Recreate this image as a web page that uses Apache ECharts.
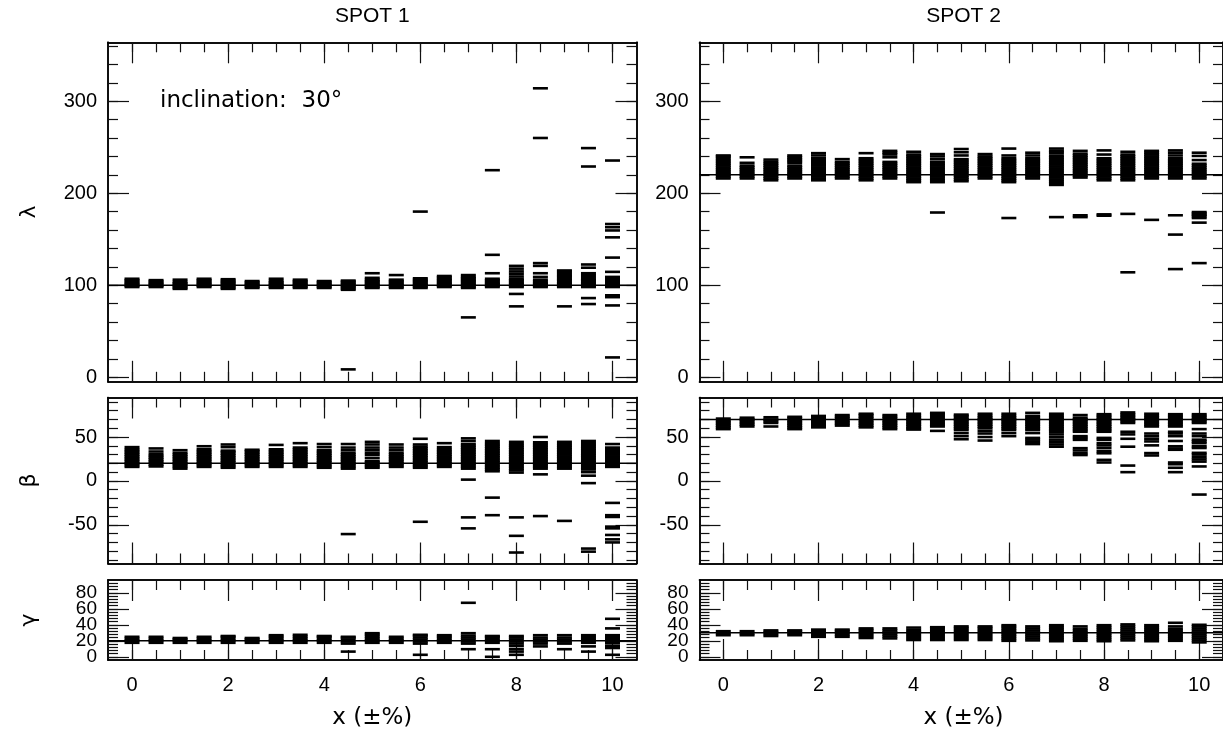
<!DOCTYPE html>
<html><head><meta charset="utf-8">
<script src="https://cdn.jsdelivr.net/npm/echarts@6/dist/echarts.min.js"></script>
<style>html,body{margin:0;padding:0;background:#fff}#c{width:1223px;height:741px}</style>
</head><body><div id="c"></div><script>
// x positions (±%)
const xPos = [0,0.5,1,1.5,2,2.5,3,3.5,4,4.5,5,5.5,6,6.5,7,7.5,8,8.5,9,9.5,10];
const xMajor = [0,2,4,6,8,10];
const xMinor = [0,0.5,1,1.5,2,2.5,3,3.5,4,4.5,5,5.5,6,6.5,7,7.5,8,8.5,9,9.5,10];
const lambdaMajor = [0,100,200,300];
const lambdaMinor = [0,20,40,60,80,100,120,140,160,180,200,220,240,260,280,300,320,340,360];
const betaMajor = [-50,0,50];
const betaMinor = [-90,-80,-70,-60,-50,-40,-30,-20,-10,0,10,20,30,40,50,60,70,80,90];
const gammaMajor = [0,20,40,60,80];
const gammaMinor = [0,4,8,12,16,20,24,28,32,36,40,44,48,52,56,60,64,68,72,76,80,84,88,92];
// label sets (split in two so tightly stacked labels are all drawn)
const lambdaLabelsA = [0,100,200,300], lambdaLabelsB = [];
const betaLabelsA = [-50,0,50], betaLabelsB = [];
const gammaLabelsA = [0,40,80], gammaLabelsB = [20,60];
// true values (reference lines) [spot1, spot2]
const lambdaTrue = [100,220];
const betaTrue = [20,70];
const gammaTrue = [20,30];

// SPOT 1 recovered lambda
const lambda1 = [
 [98,99.5,101,102.5,104,105.5,107],
 [98,99.5,101,102.5,104,105.5],
 [96,97.5,99,100.5,102,103.5,106],
 [98,99.5,101,102.5,104,105.5,107],
 [96,97.5,99,100.5,102,103.5,105,106.5],
 [97,98.5,100,101.5,103,104.5],
 [97,98.5,100,101.5,103,104.5,107],
 [97,98.5,100,101.5,103,104.5,106],
 [97,98.5,100,101.5,103,104.5],
 [8.5,95,96.5,98,99.5,101,102.5,104,105],
 [97,98.5,100,101.5,103,104.5,106,108,113],
 [97,98.5,100,101.5,103,104.5,106,111],
 [97,98.5,100,101.5,103,104.5,106,107.5,180],
 [98,99.5,101,102.5,104,105.5,107,108.5,110],
 [65,97,98.5,100,101.5,103,104.5,106,107.5,109,111],
 [98,99.5,101,102.5,104,105.5,107,113,133,225],
 [77,90.5,98,99.5,101,102.5,104,105.5,107,109.5,112.5,115,118,121],
 [98,99.5,101,102.5,104,106,109,113,121,124,260,314],
 [77,98,99.5,101,102.5,104,105.5,107,108.5,110,111.5,113,115,116],
 [79.5,86,98,99.5,101,102.5,104,105.5,107,109,111,113,119,122.5,229,249],
 [21.5,78,87,89,98,99.5,101,102.5,104,105.5,107,109,114.5,130,152,159.5,163,166.5,235.5]
];
// SPOT 2 recovered lambda
const lambda2 = [
 [216,218,220,222,224,226,228,230,232,234,236,238,240,241],
 [216,218,220,222,224,226,228,230,233,239],
 [214,216,218,220,222,224,226,228,230,232,234,236.5],
 [216,218,220,222,224,226,228,230,233,235,237,239,241],
 [214,216,218,220,222,224,226,228,230,232,234,236,238,241,243.5],
 [216,218,220,222,224,226,228,230,232,234,237],
 [214,216,218,220,222,224,226,228,230,232,234,236,238,243.5],
 [216,218,220,222,224,226,228,230,232,234,239,242,244,246],
 [212,214,216,218,220,222,224,226,228,230,232,234,236,238,240,242,245],
 [179,212,214,216,218,220,222,224,226,228,230,232,234,237,240,242.5],
 [213,215,217,219,221,223,225,227,229,231,233,235,237,241,244.5,248],
 [216,218,220,222,224,226,228,230,232,234,236,238,240,242.5],
 [173,212,214,216,218,220,222,224,226,228,230,232,234,236,238,241,248.5],
 [216,218,220,222,224,226,228,230,232,234,236,238,241,244],
 [174,209,211,213,215,217,219,221,223,225,227,229,231,233,235,237,239,241,244,246,248.5],
 [174,176,217,219,221,223,225,227,229,231,233,235,237,239,241,243,246],
 [175.5,177,214,216,218,220,222,224,226,228,230,232,234,236,238,242,246.5],
 [114,177.5,214,216,218,220,222,224,226,228,230,232,234,236,238,240,242,245],
 [171,216,218,220,222,224,226,228,230,232,234,236,238,240,242,244,246],
 [117.5,155,176,216,218,220,222,224,226,228,230,232,234,236,238,241,244,246.5],
 [124,168,173,175,176.5,178,179.5,216,218,220,222,224,226,228,230,232,236,240.5,244]
];
// SPOT 1 recovered beta
const beta1 = [
 [16,18,20,22,24,26,28,30,32,34,36,38.5],
 [16.5,18.5,20.5,22.5,24.5,26.5,28.5,30.5,33.5,37],
 [14,16,18,20,22,24,26,28,30,32,35],
 [16,18,20,22,24,26,28,30,32,34,36,39.5],
 [15,17,19,21,23,25,27,29,31,33,34.5,38.5,41.5],
 [16,18,20,22,24,26,28,30,32,34,35.5],
 [16,18,20,22,24,26,28,30,32,34,36,41],
 [16,18,20,22,24,26,28,30,32,34,36,38,43],
 [15,17,19,21,23,25,27,29,31,33,35,38.5,42],
 [-60.5,14,16,18,20,22,24,26,28,30,32,35,38,42],
 [15,17,19,21,22.5,26,29.5,32,35,38,41.5,44.5],
 [16,18,20,22,24,26,28,30,32,35,38,41.5],
 [-46.5,15,17,19,21,23,25,27,29,31,33,35,37,39,41.5,48],
 [16,18,20,22,24,26,28,30,32,34,36,38.5,43],
 [-54,-41.5,1.5,14,16,18,20,22,24,26,28,30,32,34,36,38,40,42,45.5,48.5],
 [-39,-19,11,13,15,17,19,21,23,25,27,29,31,33,35,37,39,41,43,45.5],
 [-81.5,-62.5,-41.5,9.5,12,14,16,18,20,22,24,26,28,30,32,34,36,38,40,42,44.5],
 [-40,7.5,14,16,18,20,22,24,26,28,30,32,34,36,38,40,42,44,50],
 [-45.5,14,16,18,20,22,24,26,28,30,32,34,36,38,40,42,44.5],
 [-80.5,-77,-2.5,6,10,13,15,17,19,21,23,25,27,29,31,33,35,37,39,41,43,45.5],
 [-70,-66.5,-61.5,-54,-52,-41,-39,-25,16,18,20,22,24,26,28,30,32,34,36,38,42]
];
// SPOT 2 recovered beta
const beta2 = [
 [59,61,63,65,67,69,71],
 [62,64,66,68,70,72],
 [62,66,68,70,72.5],
 [59,61,63,65,67,69,71,73],
 [61,63,65,67,69,71,73,74],
 [63,65,67,69,71,73,75],
 [61,63,65,67,69,71,73,75,76.5],
 [59,61,63,65,67,69,71,73,75],
 [58.5,60,62,64,66,68,70,72,74,76.5],
 [57,62,64,66,68,70,72,74,76,77.5],
 [47.5,51,54.5,58,60,62,64,66,68,70,72,74,75.5],
 [46,50,54,57,60,62,64,66,68,70,72,74,76.5],
 [51,54.5,58,60,62,64,66,68,70,72,74,76.5],
 [42,44.5,47,49,54.5,58,60,62,64,66,68,70,72,74,77.5],
 [39,41.5,44,47,50,53,56,58,60,62,64,66,68,70,72,74,76.5],
 [29.5,31.7,34.7,37.3,46.8,49,51,56,58,60,62,64,66,68,70,72,75],
 [21,24,31.5,34,37.5,40.5,43,46.8,49,56,58,60,62,64,66,68,70,72,74,76],
 [10,17.5,39,48,53,56,66,68,70,72,74,76,78],
 [29,31.7,40.5,45,48,51,54,62,64,66,68,70,72,74,76.5],
 [10,15,19,21,35.5,37,39.5,45.5,51,54,56,62,64,66,68,70,72,74,76],
 [-15.5,16.5,22,24.5,27,30,32,37.5,39.5,43,45,47,51,54,59,66,68,70,72,74,76]
];
// SPOT 1 recovered gamma
const gamma1 = [
 [17.5,20,22.5,25],
 [17.5,20,22.5,25],
 [17.5,20,22,23.5],
 [17.5,20,22.5,25],
 [17.5,20,22.5,25,26],
 [17.5,20,22,23.5],
 [17.5,20,22.5,25,27],
 [17.5,20,22.5,25,27.5],
 [17.5,20,22.5,25,26],
 [6.5,16.5,19,21.5,24,25],
 [17.5,20,22.5,25,27.5,29.5],
 [17.5,20,22.5,25],
 [2.5,16.5,19,21.5,24,26.5,27.5],
 [17.5,20,22.5,25,27],
 [9.5,16.5,19,21.5,24,26.5,29.5,67.5],
 [0,9.5,17.5,20,22.5,25,26],
 [2.5,6.5,9.5,13.5,16.5,19,21.5,24,26],
 [13,16.5,19,21.5,24,27],
 [9.5,16.5,19,21.5,24,27],
 [6.5,13,17.5,20,22.5,25,27],
 [2.5,11,12.5,14,17.5,20,22.5,25,27,35.5,47.5]
];
// SPOT 2 recovered gamma
const gamma2 = [
 [27,29.5,32],
 [27,29.5,32],
 [26,28.5,31,33],
 [27,29.5,32,33],
 [25,27.5,30,32.5,34],
 [25,27.5,30,32.5,34],
 [23.5,26,28.5,31,33.5,35.5],
 [23,25.5,28,30.5,33,35.5],
 [21,23.5,26,28.5,31,33.5,36.5],
 [21,23.5,26,28.5,31,33.5,36,37],
 [21,23.5,26,28.5,31,33.5,36,38],
 [21,23.5,26,28.5,31,33.5,36,38],
 [20,22.5,25,27.5,30,32.5,35,37.5,39.5],
 [20.5,23,25.5,28,30.5,33,35.5,38],
 [19.5,22,24.5,27,29.5,32,34.5,37,39.5],
 [20,22.5,25,27.5,30,32.5,35,38],
 [19.5,22,24.5,27,29.5,32,34.5,37,39.5],
 [20.5,23,25.5,28,30.5,33,35.5,38,40.5],
 [19.5,22,24.5,27,29.5,32,34.5,37,39.5],
 [20,22.5,25,27.5,30,32.5,35,38,42.5],
 [18,20.5,23,25.5,28,30.5,33,35.5,38,40]
];
const spotTitles = ['SPOT 1','SPOT 2'];
const xTitle = 'x (±%)';
const annotation = 'inclination:  30°';

// ---------- layout ----------
const cols = [{left:108,width:528.5},{left:699.5,width:528}];
const rows = [
 {top:42.3,height:339.5,min:-5,max:364,major:lambdaMajor,minor:lambdaMinor,labA:lambdaLabelsA,labB:lambdaLabelsB,name:'λ',fs:20,data:[lambda1,lambda2],truth:lambdaTrue},
 {top:397.5,height:166,min:-94,max:95,major:betaMajor,minor:betaMinor,labA:betaLabelsA,labB:betaLabelsB,name:'β',fs:20,data:[beta1,beta2],truth:betaTrue},
 {top:580,height:80,min:-4,max:96,major:gammaMajor,minor:gammaMinor,labA:gammaLabelsA,labB:gammaLabelsB,name:'γ',fs:19,data:[gamma1,gamma2],truth:gammaTrue}
];
const FONT = 'Liberation Sans, Arial, sans-serif';
const aLine = {show:true,onZero:false,lineStyle:{color:'#000',width:1.5}};
const tickStyle = {color:'#111',width:1.2};

const grid=[], xAxis=[], yAxis=[], series=[];
rows.forEach((row,r)=>{
  cols.forEach((col,c)=>{
    const gi = grid.length;
    grid.push({left:col.left,width:col.width,top:row.top,height:row.height,containLabel:false});
    const xi = xAxis.length, yi = yAxis.length;
    const showX = (r===rows.length-1);
    [['bottom',xMajor,21,showX],['bottom',xMinor,10,false],['top',xMajor,21,false],['top',xMinor,10,false]].forEach(([pos,vals,len,lab])=>{
      xAxis.push({type:'value',gridIndex:gi,position:pos,min:-0.5,max:10.5,axisLine:aLine,splitLine:{show:false},
        axisTick:{show:true,inside:true,length:len,customValues:vals,lineStyle:tickStyle},
        axisLabel:{show:lab,customValues:xMajor,margin:15,color:'#000',fontSize:20,fontFamily:FONT,hideOverlap:false}});
    });
    [['left',row.major,21,row.labA],['left',row.minor,10,row.labB],['right',row.major,21,[]],['right',row.minor,10,[]]].forEach(([pos,vals,len,labs],k)=>{
      const ax = {type:'value',gridIndex:gi,position:pos,min:row.min,max:row.max,axisLine:aLine,splitLine:{show:false},
        axisTick:{show:true,inside:true,length:len,customValues:vals,lineStyle:tickStyle},
        axisLabel:{show:labs.length>0,customValues:labs.length?labs:vals,margin:11,color:'#000',fontSize:row.fs,fontFamily:FONT,
          hideOverlap:false,showMinLabel:true,showMaxLabel:true}};
      if(k===0 && c===0){
        ax.name=row.name; ax.nameLocation='middle'; ax.nameRotate=90; ax.nameGap=68;
        ax.nameTextStyle={fontSize:22,fontFamily:'DejaVu Sans',color:'#000'};
      }
      yAxis.push(ax);
    });
    const t = row.truth[c];
    series.push({type:'line',xAxisIndex:xi,yAxisIndex:yi,data:[[-0.5,t],[10.5,t]],symbol:'none',silent:true,
      lineStyle:{color:'#000',width:1.5},z:2});
    const pts=[];
    xPos.forEach((x,i)=>row.data[c][i].forEach(v=>pts.push([x,v])));
    series.push({type:'scatter',xAxisIndex:xi,yAxisIndex:yi,data:pts,symbol:'rect',symbolSize:[15,2.6],silent:true,
      itemStyle:{color:'#000',opacity:1},z:3});
  });
});

const graphic = [];
cols.forEach((col,c)=>{
  const cx = col.left + col.width/2;
  graphic.push({type:'text',x:cx,y:16,style:{text:spotTitles[c],textAlign:'center',textVerticalAlign:'middle',font:'21px '+FONT,fill:'#000'}});
  graphic.push({type:'text',x:cx,y:718,style:{text:xTitle,textAlign:'center',textVerticalAlign:'middle',font:'23px DejaVu Sans',fill:'#000'}});
});
graphic.push({type:'text',x:160,y:101,style:{text:annotation,textAlign:'left',textVerticalAlign:'middle',font:'23px DejaVu Sans',fill:'#000'}});

const chart = echarts.init(document.getElementById('c'),null,{renderer:'canvas'});
chart.setOption({animation:false,backgroundColor:'#fff',grid,xAxis,yAxis,series,graphic});
</script></body></html>
